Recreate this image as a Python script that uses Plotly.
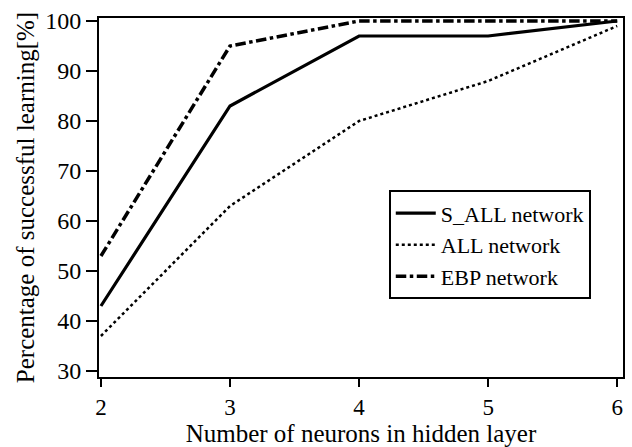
import plotly.graph_objects as go

neurons = [2, 3, 4, 5, 6]
s_all = [43, 83, 97, 97, 100]
all_net = [37, 63, 80, 88, 99]
ebp = [53, 95, 100, 100, 100]

font_family = "Liberation Serif"

fig = go.Figure()
fig.add_trace(go.Scatter(x=neurons, y=s_all, mode="lines", name="S_ALL network",
                         line=dict(color="black", width=3.2, dash="solid")))
fig.add_trace(go.Scatter(x=neurons, y=all_net, mode="lines", name="ALL network",
                         line=dict(color="black", width=2.5, dash="dot")))
fig.add_trace(go.Scatter(x=neurons, y=ebp, mode="lines", name="EBP network",
                         line=dict(color="black", width=3.5, dash="dashdot")))

fig.update_layout(
    width=632, height=447,
    margin=dict(l=99, r=7, t=18, b=70),
    paper_bgcolor="white", plot_bgcolor="white",
    font=dict(family=font_family, size=25, color="black"),
    showlegend=True,
    legend=dict(x=0.553, y=0.52, xanchor="left", yanchor="top",
                bordercolor="black", borderwidth=2, bgcolor="white",
                font=dict(size=22, family=font_family), tracegroupgap=0,
                itemwidth=40),
    xaxis=dict(range=[1.985, 6.045], tickvals=neurons, ticktext=[str(v) for v in neurons],
               ticks="outside", ticklen=8, tickwidth=2, tickcolor="black",
               showline=True, linecolor="black", linewidth=2, mirror=True,
               showgrid=False, zeroline=False,
               tickfont=dict(family=font_family, size=23),
               title=dict(text="Number of neurons in hidden layer", standoff=3,
                          font=dict(family=font_family, size=25))),
    yaxis=dict(range=[28.8, 100.6], tickvals=[30, 40, 50, 60, 70, 80, 90, 100],
               ticks="outside", ticklen=11, tickwidth=2, tickcolor="black",
               showline=True, linecolor="black", linewidth=2, mirror=True,
               showgrid=False, zeroline=False,
               tickfont=dict(family=font_family, size=24),
               title=dict(text="Percentage of successful learning[%]", standoff=3,
                          font=dict(family=font_family, size=25))),
)

fig.write_html("out.html")
